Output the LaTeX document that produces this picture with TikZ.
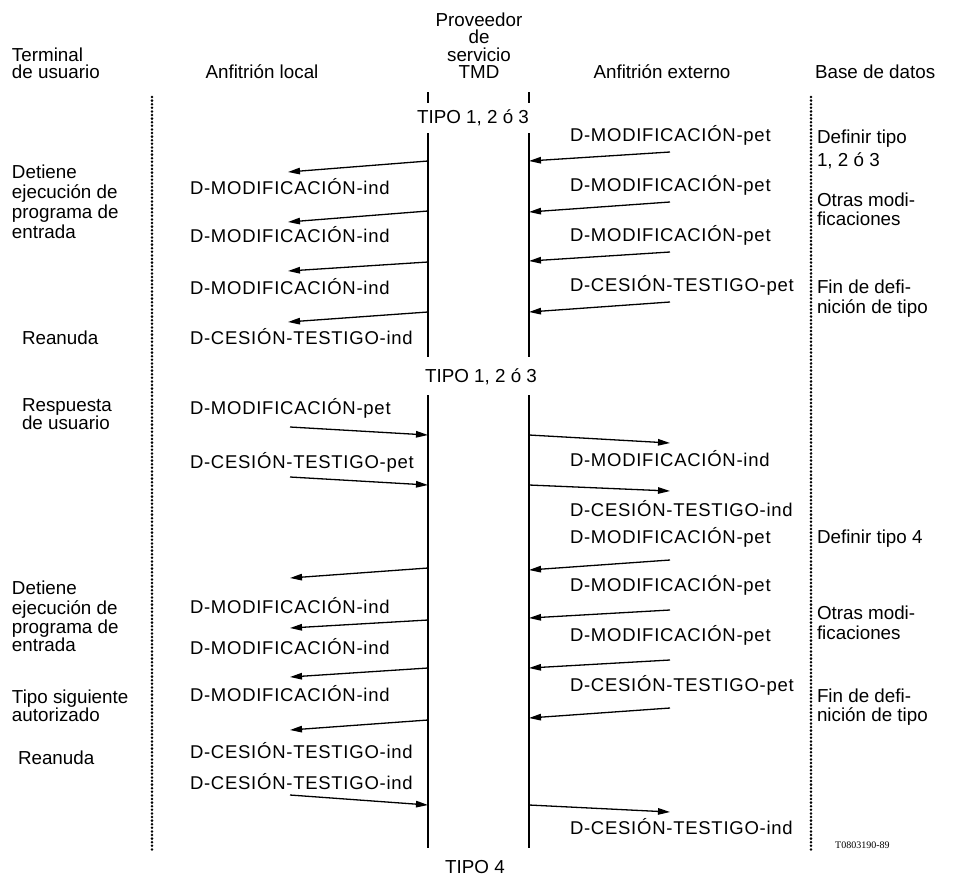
\documentclass[tikz,border=0pt]{standalone}
\usepackage{fontspec}
\setmainfont{Liberation Sans}
\newfontfamily\msgfam[LetterSpace=4]{Liberation Sans}
\newfontfamily\codefam{Liberation Serif}
\usetikzlibrary{arrows.meta}
\begin{document}
\begin{tikzpicture}[x=1pt,y=-1pt,
  txt/.style={inner sep=0pt, outer sep=0pt, text height=13pt, text depth=0pt, font=\fontsize{18.8}{20}\selectfont},
  tl/.style={txt, anchor=west},
  tc/.style={txt, anchor=center},
  ml/.style={txt, anchor=west, font=\msgfam\fontsize{18.5}{20}\selectfont},
  life/.style={line width=1.8pt},
  dots/.style={line width=2.8pt, dash pattern=on 0pt off 3.6pt, line cap=round},
  arr/.style={line width=1.3pt, -{Triangle[length=12pt,width=6.5pt]}},
]
\fill[white] (0,0) rectangle (953,879);
\useasboundingbox (0,0) rectangle (953,879);

% headers
\node[tl] (h1) at (12,55) {Terminal};
\node[tl] (h2) at (12,72) {de usuario};
\node[tc] (h3) at (262,72) {Anfitrión local};
\node[tc] (h4) at (479,20) {Proveedor};
\node[tc] (h5) at (479,37) {de};
\node[tc] (h6) at (479,55) {servicio};
\node[tc] (h7) at (479,72) {TMD};
\node[tc] (h8) at (662,72) {Anfitrión externo};
\node[tl] (h9) at (815,72) {Base de datos};

% dotted boundaries
\coordinate (dl1) at (152,97); \coordinate (dl2) at (152,852);
\coordinate (dr1) at (811,97); \coordinate (dr2) at (811,850);
\draw[dots] (dl1) -- (dl2);
\draw[dots] (dr1) -- (dr2);

% lifelines
\coordinate (la0) at (428,92); \coordinate (la1) at (428,103);
\coordinate (ra0) at (529,92); \coordinate (ra1) at (529,103);
\draw[life] (la0) -- (la1);
\draw[life] (ra0) -- (ra1);
\node[tc] (tipo1) at (473,117) {TIPO 1, 2 ó 3};
\coordinate (lb0) at (428,133); \coordinate (lb1) at (428,357);
\coordinate (rb0) at (529,133); \coordinate (rb1) at (529,357);
\draw[life] (lb0) -- (lb1);
\draw[life] (rb0) -- (rb1);
\node[tc] (tipo2) at (481,376) {TIPO 1, 2 ó 3};
\coordinate (lc0) at (428,395); \coordinate (lc1) at (428,848);
\coordinate (rc0) at (529,395); \coordinate (rc1) at (529,848);
\draw[life] (lc0) -- (lc1);
\draw[life] (rc0) -- (rc1);
\node[tc] (tipo3) at (475,867) {TIPO 4};

% ===== section 1 =====
\node[tl] (c1) at (12,172) {Detiene};
\node[tl] (c2) at (12,192) {ejecución de};
\node[tl] (c3) at (12,212) {programa de};
\node[tl] (c4) at (12,232) {entrada};
\node[tl] (c5) at (22,338) {Reanuda};

\node[tl] (d1) at (817,137) {Definir tipo};
\node[tl] (d2) at (817,160) {1, 2 ó 3};
\node[tl] (d3) at (817,200) {Otras modi-};
\node[tl] (d4) at (817,219) {ficaciones};
\node[tl] (d5) at (817,287) {Fin de defi-};
\node[tl] (d6) at (817,307) {nición de tipo};

% right pet messages
\node[ml] (m1) at (570,135) {D-MODIFICACIÓN-pet};
\node[ml] (m2) at (570,185) {D-MODIFICACIÓN-pet};
\node[ml] (m3) at (570,235) {D-MODIFICACIÓN-pet};
\node[ml] (m4) at (570,285) {D-CESIÓN-TESTIGO-pet};
\coordinate (p1a) at (670,152); \coordinate (p1b) at (529,161);
\coordinate (p2a) at (670,202); \coordinate (p2b) at (529,212);
\coordinate (p3a) at (670,252); \coordinate (p3b) at (529,261);
\coordinate (p4a) at (670,302); \coordinate (p4b) at (529,312);
\draw[arr] (p1a) -- (p1b);
\draw[arr] (p2a) -- (p2b);
\draw[arr] (p3a) -- (p3b);
\draw[arr] (p4a) -- (p4b);

% left ind messages
\node[ml] (n1) at (190,188) {D-MODIFICACIÓN-ind};
\node[ml] (n2) at (190,236) {D-MODIFICACIÓN-ind};
\node[ml] (n3) at (190,288) {D-MODIFICACIÓN-ind};
\node[ml] (n4) at (190,338) {D-CESIÓN-TESTIGO-ind};
\coordinate (q1a) at (428,161); \coordinate (q1b) at (288,172);
\coordinate (q2a) at (428,211); \coordinate (q2b) at (288,222);
\coordinate (q3a) at (428,262); \coordinate (q3b) at (288,271);
\coordinate (q4a) at (428,312); \coordinate (q4b) at (288,322);
\draw[arr] (q1a) -- (q1b);
\draw[arr] (q2a) -- (q2b);
\draw[arr] (q3a) -- (q3b);
\draw[arr] (q4a) -- (q4b);

% ===== section 2 =====
\node[tl] (e1) at (22,405) {Respuesta};
\node[tl] (e2) at (22,423) {de usuario};
\node[ml] (n5) at (190,408) {D-MODIFICACIÓN-pet};
\node[ml] (n6) at (190,462) {D-CESIÓN-TESTIGO-pet};
\coordinate (s1a) at (290,427); \coordinate (s1b) at (428,435);
\coordinate (s2a) at (290,477); \coordinate (s2b) at (428,485);
\draw[arr] (s1a) -- (s1b);
\draw[arr] (s2a) -- (s2b);
\coordinate (t1a) at (529,435); \coordinate (t1b) at (670,443);
\coordinate (t2a) at (529,485); \coordinate (t2b) at (670,491);
\draw[arr] (t1a) -- (t1b);
\draw[arr] (t2a) -- (t2b);
\node[ml] (m5) at (570,460) {D-MODIFICACIÓN-ind};
\node[ml] (m6) at (570,510) {D-CESIÓN-TESTIGO-ind};

% ===== section 3 =====
\node[ml] (m7) at (570,537) {D-MODIFICACIÓN-pet};
\node[ml] (m8) at (570,585) {D-MODIFICACIÓN-pet};
\node[ml] (m9) at (570,635) {D-MODIFICACIÓN-pet};
\node[ml] (m10) at (570,685) {D-CESIÓN-TESTIGO-pet};
\coordinate (p5a) at (670,560); \coordinate (p5b) at (529,570);
\coordinate (p6a) at (670,610); \coordinate (p6b) at (529,618);
\coordinate (p7a) at (670,660); \coordinate (p7b) at (529,668);
\coordinate (p8a) at (670,708); \coordinate (p8b) at (529,718);
\draw[arr] (p5a) -- (p5b);
\draw[arr] (p6a) -- (p6b);
\draw[arr] (p7a) -- (p7b);
\draw[arr] (p8a) -- (p8b);

\node[tl] (d7) at (817,537) {Definir tipo 4};
\node[tl] (d8) at (817,613) {Otras modi-};
\node[tl] (d9) at (817,633) {ficaciones};
\node[tl] (d10) at (817,696) {Fin de defi-};
\node[tl] (d11) at (817,715) {nición de tipo};

\node[tl] (c6) at (12,588) {Detiene};
\node[tl] (c7) at (12,608) {ejecución de};
\node[tl] (c8) at (12,627) {programa de};
\node[tl] (c9) at (12,645) {entrada};
\node[tl] (c10) at (12,697) {Tipo siguiente};
\node[tl] (c11) at (12,715) {autorizado};
\node[tl] (c12) at (18,758) {Reanuda};

\coordinate (q5a) at (428,568); \coordinate (q5b) at (290,578);
\coordinate (q6a) at (428,620); \coordinate (q6b) at (290,628);
\coordinate (q7a) at (428,668); \coordinate (q7b) at (290,677);
\coordinate (q8a) at (428,720); \coordinate (q8b) at (290,730);
\draw[arr] (q5a) -- (q5b);
\draw[arr] (q6a) -- (q6b);
\draw[arr] (q7a) -- (q7b);
\draw[arr] (q8a) -- (q8b);
\node[ml] (n7) at (190,607) {D-MODIFICACIÓN-ind};
\node[ml] (n8) at (190,648) {D-MODIFICACIÓN-ind};
\node[ml] (n9) at (190,695) {D-MODIFICACIÓN-ind};
\node[ml] (n10) at (190,752) {D-CESIÓN-TESTIGO-ind};
\node[ml] (n11) at (190,783) {D-CESIÓN-TESTIGO-ind};

\coordinate (s3a) at (290,795); \coordinate (s3b) at (428,805);
\draw[arr] (s3a) -- (s3b);
\coordinate (t3a) at (529,805); \coordinate (t3b) at (670,812);
\draw[arr] (t3a) -- (t3b);
\node[ml] (m11) at (570,828) {D-CESIÓN-TESTIGO-ind};

\node[anchor=west, inner sep=0pt, font=\codefam\fontsize{10}{12}\selectfont] (code) at (835,845) {T0803190-89};
\end{tikzpicture}
\end{document}
